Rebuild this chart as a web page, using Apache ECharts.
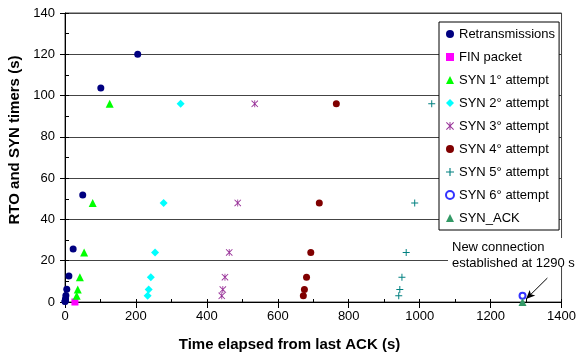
<!DOCTYPE html>
<html>
<head>
<meta charset="utf-8">
<script src="https://cdn.jsdelivr.net/npm/echarts@6/dist/echarts.min.js"></script>
<style>
  html, body { margin: 0; padding: 0; background: #fff; }
  #chart { width: 579px; height: 358px; }
</style>
</head>
<body>
<div id="chart"></div>
<script>
// retransmissions: time (s) and RTO (s)
const retransX = [0, 0.5, 1, 1.5, 2.5, 5, 11, 23, 50, 101, 205]
const retransY = [0.2, 0.4, 0.8, 1.6, 3.2, 6.2, 12.6, 25.7, 51.8, 103.7, 120]

const finX = [28]
const finY = [0]

// SYN timer levels, same for every attempt
const synTimers = [3, 6, 12, 24, 48, 96]
const syn1X = [33, 36, 42, 54, 78, 126]
const syn2X = [233, 236, 242, 254, 278, 326]
const syn3X = [442, 445, 451, 463, 487, 535]
const syn4X = [672, 675, 681, 693, 717, 765]
const syn5X = [941, 944, 950, 962, 986, 1034]
const syn6X = [1290]
const syn6Y = [3]
const synAckX = [1290]
const synAckY = [0]

// annotation arrow (data coords)
const arrowFrom = [1360, 11.6]
const arrowTo = [1300, 1.4]
const noteLines = ['New connection', 'established at 1290 s']

const FONT = "'Liberation Sans', Arial, sans-serif"

const zip = (xs, ys) => xs.map((x, i) => [x, ys[i]])

const plusPath = 'path://M4.3,0H5.7V4.3H10V5.7H5.7V10H4.3V5.7H0V4.3H4.3Z'
const starPath = 'path://M0,0.9L0.9,0L5,4.1L9.1,0L10,0.9L5.9,5L10,9.1L9.1,10L5,5.9L0.9,10L0,9.1L4.1,5Z M4.4,0H5.6V10H4.4Z'

const chart = echarts.init(document.getElementById('chart'))

const scatter = (name, data, symbol, size, color, extra) => Object.assign({
  name: name,
  type: 'scatter',
  data: data,
  symbol: symbol,
  symbolSize: size,
  clip: false,
  itemStyle: { color: color, opacity: 1 },
  emphasis: { disabled: true }
}, extra || {})

const series = [
  scatter('Retransmissions', zip(retransX, retransY), 'circle', 7, '#000080'),
  scatter('FIN packet', zip(finX, finY), 'rect', 7, '#FF00FF'),
  scatter('SYN 1° attempt', zip(syn1X, synTimers), 'triangle', 8, '#00FF00'),
  scatter('SYN 2° attempt', zip(syn2X, synTimers), 'diamond', 8, '#00FFFF'),
  scatter('SYN 3° attempt', zip(syn3X, synTimers), starPath, 7, '#993399'),
  scatter('SYN 4° attempt', zip(syn4X, synTimers), 'circle', 7, '#800000'),
  scatter('SYN 5° attempt', zip(syn5X, synTimers), plusPath, 7, '#008080'),
  scatter('SYN 6° attempt', zip(syn6X, syn6Y), 'emptyCircle', 6, '#0000FF', {
    itemStyle: { color: '#0000FF', borderColor: '#0000FF', borderWidth: 1.2 }
  }),
  scatter('SYN_ACK', zip(synAckX, synAckY), 'triangle', 8, '#339966', {
    markLine: {
      silent: true,
      symbol: ['none', 'arrow'],
      symbolSize: [6, 9],
      label: { show: false },
      lineStyle: { color: '#000', width: 1, type: 'solid' },
      emphasis: { disabled: true },
      data: [[{ coord: arrowFrom }, { coord: arrowTo }]]
    }
  })
]

const option = {
  animation: false,
  textStyle: { fontFamily: FONT },
  grid: {
    left: 65, right: 17, top: 13, bottom: 56,
    show: true, borderColor: '#444', borderWidth: 1, backgroundColor: 'transparent'
  },
  xAxis: [
    {
      type: 'value', min: 0, max: 1400, interval: 200,
      axisLine: { show: true, onZero: false, lineStyle: { color: '#000', width: 1 } },
      axisTick: { show: true, length: 6, lineStyle: { color: '#000' } },
      axisLabel: { color: '#000', fontSize: 13, margin: 8, fontFamily: FONT, formatter: v => String(v) },
      splitLine: { show: false }
    },
    {
      type: 'value', min: 0, max: 1400, interval: 100, position: 'bottom',
      axisLine: { show: false },
      axisTick: { show: true, inside: true, length: 3, lineStyle: { color: '#000' } },
      axisLabel: { show: false },
      splitLine: { show: false }
    }
  ],
  yAxis: [
    {
      type: 'value', min: 0, max: 140, interval: 20,
      axisLine: { show: true, onZero: false, lineStyle: { color: '#000', width: 1 } },
      axisTick: { show: true, length: 5, lineStyle: { color: '#000' } },
      axisLabel: { color: '#000', fontSize: 13, margin: 10, fontFamily: FONT },
      splitLine: { show: true, lineStyle: { color: '#444', width: 1 } }
    },
    {
      type: 'value', min: 0, max: 140, interval: 10, position: 'left',
      axisLine: { show: false },
      axisTick: { show: true, inside: true, length: 4, lineStyle: { color: '#000' } },
      axisLabel: { show: false },
      splitLine: { show: false }
    }
  ],
  legend: {
    orient: 'vertical',
    left: 439,
    top: 22,
    itemWidth: 8,
    itemHeight: 8,
    itemGap: 9,
    padding: [5, 4, 5, 6],
    backgroundColor: '#fff',
    borderColor: '#000',
    borderWidth: 1,
    borderRadius: 0,
    selectedMode: false,
    textStyle: { color: '#000', fontSize: 13, lineHeight: 14, fontFamily: FONT },
    data: series.map(s => s.name)
  },
  graphic: [
    {
      type: 'text', left: 'center', top: 337, z: 100,
      style: { text: 'Time elapsed from last ACK (s)', fill: '#000', font: "bold 15px " + FONT }
    },
    {
      type: 'text', z: 100,
      x: 7, y: 140, rotation: Math.PI / 2,
      style: {
        text: 'RTO and SYN timers (s)', fill: '#000', font: "bold 15px " + FONT,
        align: 'center', verticalAlign: 'top'
      }
    },
    {
      type: 'rect', z: 99, shape: { x: 448, y: 238, width: 131, height: 28 },
      style: { fill: '#fff' }
    },
    {
      type: 'text', z: 100, x: 452, y: 239,
      style: { text: noteLines.join('\n'), fill: '#000', font: "13px " + FONT, lineHeight: 16 }
    }
  ],
  series: series
}

chart.setOption(option)
</script>
</body>
</html>
